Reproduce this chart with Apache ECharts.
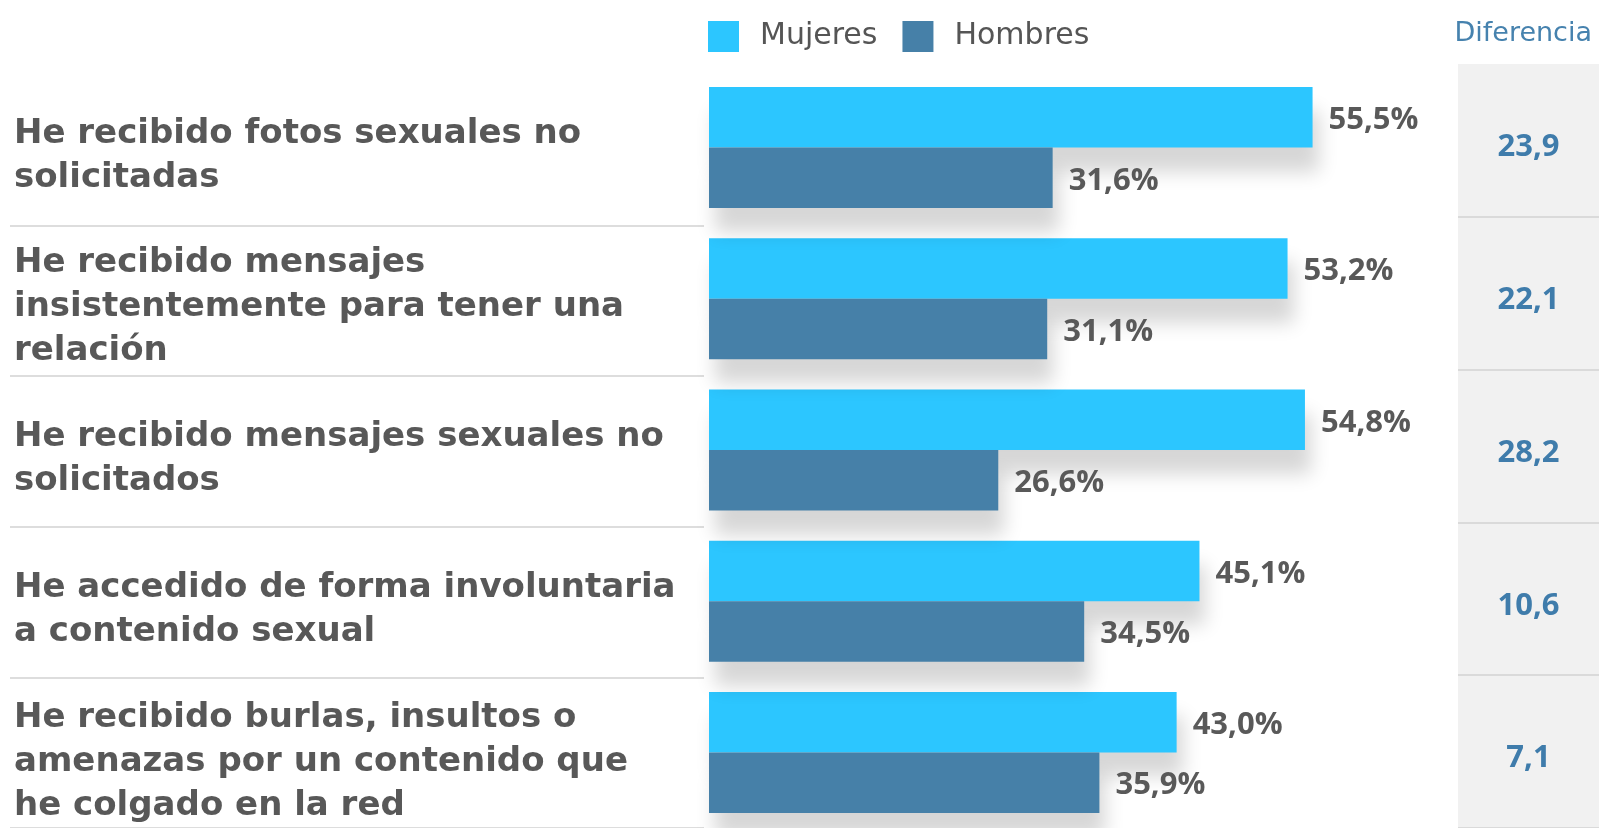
<!DOCTYPE html>
<html>
<head>
<meta charset="utf-8">
<script src="https://cdn.jsdelivr.net/npm/echarts@6/dist/echarts.min.js"></script>
<style>
  html, body { margin: 0; padding: 0; background: #fff; }
  #chart { width: 1599px; height: 828px; }
</style>
</head>
<body>
<div id="chart"></div>
<script>
// data
var categories = [
    'He recibido fotos sexuales no\nsolicitadas',
    'He recibido mensajes\ninsistentemente para tener una\nrelación',
    'He recibido mensajes sexuales no\nsolicitados',
    'He accedido de forma involuntaria\na contenido sexual',
    'He recibido burlas, insultos o\namenazas por un contenido que\nhe colgado en la red'
];
var mujeres = [55.5, 53.2, 54.8, 45.1, 43.0];
var hombres = [31.6, 31.1, 26.6, 34.5, 35.9];
var diferencia = [23.9, 22.1, 28.2, 10.6, 7.1];

var seriesNames = ['Mujeres', 'Hombres'];
var colors = ['#2cc6ff', '#4680a8'];
var wideFont = '"DejaVu Sans", sans-serif';
var numFont = '"Open Sans", sans-serif';

function fmt(v) {
    return v.toFixed(1).replace('.', ',');
}

var chart = echarts.init(document.getElementById('chart'));

var barShadow = {
    shadowBlur: 18,
    shadowColor: 'rgba(0,0,0,0.16)',
    shadowOffsetX: 6,
    shadowOffsetY: 24
};

var valueLabel = {
    show: true,
    position: 'right',
    distance: 16,
    offset: [0, 3],
    color: '#595959',
    fontFamily: numFont,
    fontWeight: 'bold',
    fontSize: 31,
    formatter: function(p) { return fmt(p.value) + '%'; }
};

var hiddenCat = {
    type: 'category', data: categories, inverse: true,
    axisLine: { show: false }, axisTick: { show: false }, axisLabel: { show: false }
};

option = {
    backgroundColor: '#fff',
    animation: false,
    title: {
        text: 'Diferencia',
        right: 2,
        top: 15,
        textStyle: {
            color: '#4682ae',
            fontFamily: wideFont,
            fontWeight: 'normal',
            fontSize: 27
        }
    },
    legend: {
        data: seriesNames,
        left: 703,
        top: 16,
        itemWidth: 31,
        itemHeight: 31,
        itemGap: 25,
        icon: 'rect',
        textStyle: {
            color: '#555',
            fontFamily: wideFont,
            fontSize: 30,
            padding: [0, 0, 0, 16]
        }
    },
    grid: [
        // left separators
        { left: 10, top: 75, width: 694, height: 758 },
        // bars
        { left: 709, top: 72, width: 870, height: 758 },
        // diferencia column
        { left: 1458, top: 64, right: 0, height: 770, show: true,
          backgroundColor: '#f1f1f1', borderWidth: 0 },
        // left category labels (centres on ticks)
        { left: 10, top: 156, width: 694, height: 607 }
    ],
    xAxis: [
        { gridIndex: 0, type: 'value', show: false },
        { gridIndex: 1, type: 'value', min: 0, max: 80, show: false },
        { gridIndex: 2, type: 'value', min: 0, max: 1, show: false },
        { gridIndex: 3, type: 'value', show: false }
    ],
    yAxis: [
        Object.assign({}, hiddenCat, {
            gridIndex: 0,
            splitLine: {
                show: true,
                interval: function(i) { return i > 0; },
                lineStyle: { color: '#d2d2d2', width: 1.5 }
            }
        }),
        Object.assign({}, hiddenCat, { gridIndex: 1 }),
        Object.assign({}, hiddenCat, {
            gridIndex: 2,
            splitLine: {
                show: true,
                interval: function(i) { return i > 0; },
                lineStyle: { color: '#d2d2d2', width: 1.5 }
            }
        }),
        Object.assign({}, hiddenCat, {
            gridIndex: 3,
            boundaryGap: false,
            axisLabel: {
                show: true,
                align: 'left',
                margin: -4,
                color: '#585858',
                fontFamily: wideFont,
                fontWeight: 'bold',
                fontSize: 34,
                lineHeight: 44
            }
        })
    ],
    series: [
        {
            name: 'Mujeres', type: 'bar', xAxisIndex: 1, yAxisIndex: 1,
            data: mujeres, barWidth: 60.5, barGap: '0%',
            itemStyle: Object.assign({ color: colors[0] }, barShadow),
            label: valueLabel
        },
        {
            name: 'Hombres', type: 'bar', xAxisIndex: 1, yAxisIndex: 1,
            data: hombres, barWidth: 60.5, barGap: '0%',
            itemStyle: Object.assign({ color: colors[1] }, barShadow),
            label: valueLabel
        },
        {
            name: 'Diferencia', type: 'scatter', xAxisIndex: 2, yAxisIndex: 2,
            symbolSize: 0,
            itemStyle: { opacity: 1 },
            data: diferencia.map(function(d, i) { return [0.5, i]; }),
            label: {
                show: true,
                position: 'inside',
                offset: [0, 7],
                color: '#3f7cab',
                fontFamily: numFont,
                fontWeight: 'bold',
                fontSize: 31,
                formatter: function(p) { return fmt(diferencia[p.dataIndex]); }
            },
            silent: true
        }
    ]
};

chart.setOption(option);
</script>
</body>
</html>
